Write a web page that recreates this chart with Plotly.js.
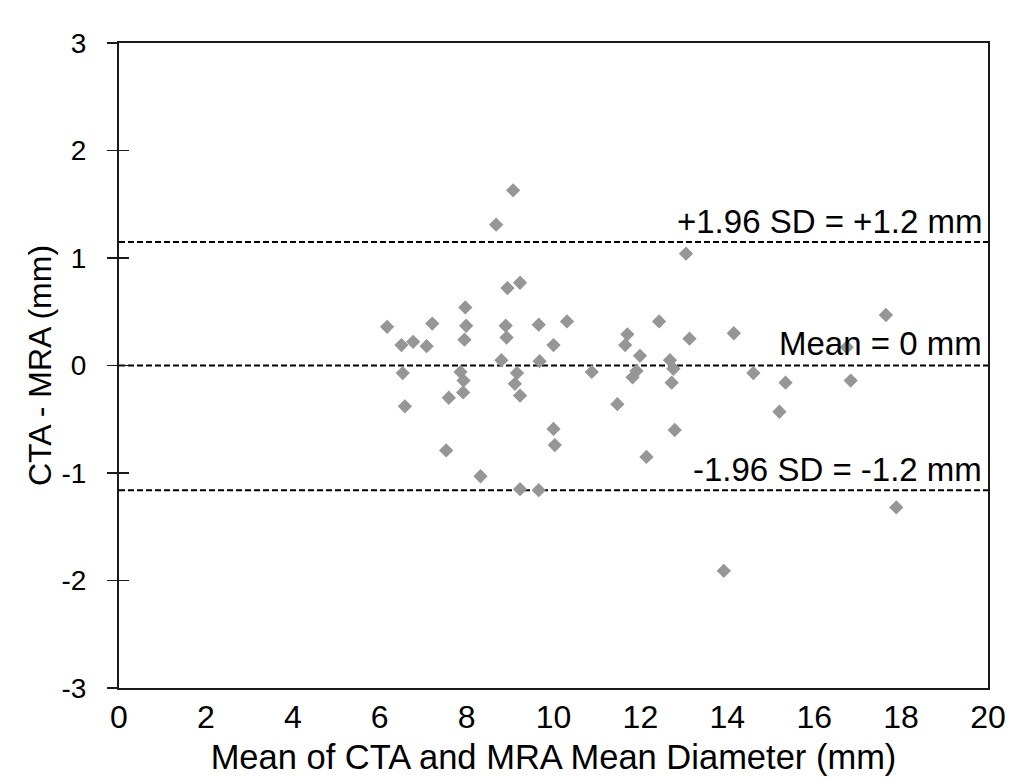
<!DOCTYPE html>
<html>
<head>
<meta charset="utf-8">
<script src="https://cdn.plot.ly/plotly-3.0.1.min.js"></script>
<style>html,body{margin:0;padding:0;background:#fff;}#chart{width:1011px;height:779px;}</style>
</head>
<body>
<div id="chart"></div>
<script>
// Mean of CTA and MRA mean diameter (mm)
const meanDiameter = [
  9.07, 8.68, 8.94, 9.23, 7.97, 6.17, 7.21, 7.99, 8.90, 9.66,
  10.31, 6.50, 6.77, 7.08, 7.95, 8.92, 10.00, 8.80, 9.68, 6.53,
  7.86, 7.93, 7.92, 9.16, 9.11, 9.23, 10.88, 7.59, 6.58, 10.00,
  10.03, 7.53, 8.32, 9.23, 9.66,
  13.05, 12.43, 17.65, 11.70, 11.65, 13.13, 14.15, 11.99, 12.68, 12.76,
  11.91, 11.82, 12.72, 14.60, 15.34, 16.84, 16.75, 11.47, 15.20, 12.79,
  12.14, 17.89, 13.92
];
// CTA - MRA difference (mm)
const difference = [
  1.63, 1.31, 0.72, 0.77, 0.54, 0.36, 0.39, 0.37, 0.37, 0.38,
  0.41, 0.19, 0.22, 0.18, 0.24, 0.26, 0.19, 0.05, 0.04, -0.07,
  -0.06, -0.14, -0.25, -0.07, -0.17, -0.28, -0.06, -0.30, -0.38, -0.59,
  -0.74, -0.79, -1.03, -1.15, -1.16,
  1.04, 0.41, 0.47, 0.29, 0.19, 0.25, 0.30, 0.09, 0.05, -0.03,
  -0.05, -0.11, -0.16, -0.07, -0.16, -0.14, 0.17, -0.36, -0.43, -0.60,
  -0.85, -1.32, -1.91
];
// Agreement lines
const meanDiff = 0;
const upperLimit = 1.15;
const lowerLimit = -1.16;
const lineLabels = ["+1.96 SD = +1.2 mm", "Mean = 0 mm", "-1.96 SD = -1.2 mm"];
const lineValues = [upperLimit, meanDiff, lowerLimit];
const xTicks = [0, 2, 4, 6, 8, 10, 12, 14, 16, 18, 20];
const yTicks = [-3, -2, -1, 0, 1, 2, 3];

const font = "Arial, 'Liberation Sans', sans-serif";

const trace = {
  x: meanDiameter,
  y: difference,
  type: "scatter",
  mode: "markers",
  marker: { symbol: "diamond", size: 11, color: "#969696" },
  hoverinfo: "x+y",
  showlegend: false
};

const shapes = lineValues.map(v => ({
  type: "line", xref: "paper", x0: 0, x1: 1, yref: "y", y0: v, y1: v,
  line: { color: "#000", width: 2, dash: "6px,3px" }, layer: "below"
}));

const annotations = lineValues.map((v, i) => ({
  xref: "x", yref: "y", x: 20, y: v, text: lineLabels[i],
  xanchor: "right", yanchor: "bottom", showarrow: false,
  xshift: -4, yshift: i === 1 ? 2 : 0,
  font: { family: font, size: 33, color: "#000" }
}));

const layout = {
  width: 1011, height: 779,
  margin: { l: 119, r: 23, t: 43, b: 91 },
  paper_bgcolor: "#fff", plot_bgcolor: "#fff",
  font: { family: font, color: "#000" },
  xaxis: {
    range: [0, 20], tickvals: xTicks, ticktext: xTicks.map(String),
    showgrid: false, zeroline: false, showline: true, mirror: true,
    linecolor: "#1a1a1a", linewidth: 2, ticks: "",
    ticklabelstandoff: 0,
    tickfont: { family: font, size: 32, color: "#000" },
    title: { text: "Mean of CTA and MRA Mean Diameter (mm)", font: { family: font, size: 34.5, color: "#000" }, standoff: 10 }
  },
  yaxis: {
    range: [-3, 3], tickvals: yTicks, ticktext: yTicks.map(String),
    showgrid: false, zeroline: false, showline: true, mirror: true,
    linecolor: "#1a1a1a", linewidth: 2, ticks: "outside", ticklen: 10, tickwidth: 1.5, tickcolor: "#1a1a1a",
    ticklabelstandoff: 15,
    tickfont: { family: font, size: 28, color: "#000" },
    title: { text: "CTA - MRA (mm)", font: { family: font, size: 32, color: "#000" }, standoff: 0 }
  },
  yaxis2: {
    overlaying: "y", matches: "y", range: [-3, 3], tickvals: yTicks,
    showticklabels: false, showgrid: false, zeroline: false, showline: false,
    ticks: "inside", ticklen: 10, tickwidth: 1.5, tickcolor: "#1a1a1a", side: "left"
  },
  shapes: shapes,
  annotations: annotations
};

const dummy = { x: [], y: [], yaxis: "y2", type: "scatter", showlegend: false, hoverinfo: "skip" };

Plotly.newPlot("chart", [trace, dummy], layout, { staticPlot: true, displayModeBar: false });
</script>
</body>
</html>
